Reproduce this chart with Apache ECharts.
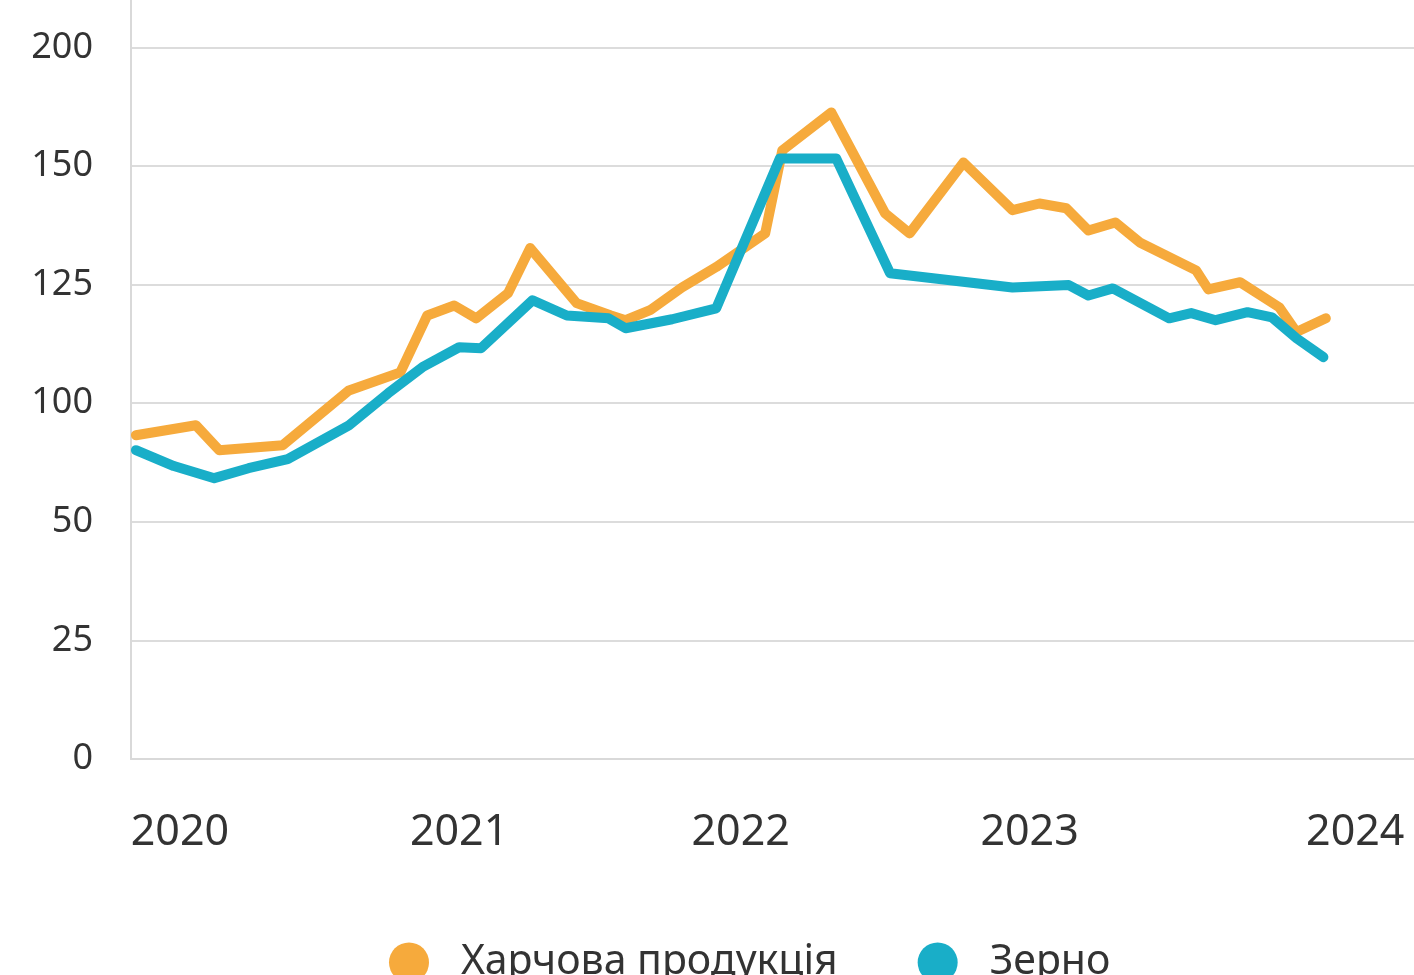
<!DOCTYPE html>
<html>
<head>
<meta charset="utf-8">
<title>Харчова продукція / Зерно</title>
<script src="https://cdn.jsdelivr.net/npm/echarts@6/dist/echarts.min.js"></script>
<style>
  html, body { margin: 0; padding: 0; background: #fff; }
  #chart { width: 1414px; height: 975px; }
</style>
</head>
<body>
<div id="chart"></div>
<script>
// x = місяці від січня 2020 (0 = січ 2020)
var yearLabels = ['2020', '2021', '2022', '2023', '2024'];
var yearLabelAt = [0, 11.4, 22.9, 34.7, 48];

// підписи осі Y (рівномірні поділки, але нерівномірні значення)
var yTickLabels = [0, 25, 50, 100, 125, 150, 200];

var foodX = [-1.8, 0.65, 1.6, 4.2, 6.9, 9.0, 10.1, 11.2, 12.1, 13.4, 14.3, 16.2, 17.6, 18.2, 19.2, 20.5, 21.9, 23.9, 24.6, 26.6, 28.8, 29.8, 32.0, 34.0, 35.1, 36.2, 37.1, 38.2, 39.2, 41.5, 42.0, 43.3, 44.9, 45.6, 46.8];
var foodY = [86.5, 90.7, 80.2, 82.3, 102.7, 106.5, 118.5, 120.6, 117.9, 123.2, 132.7, 121.1, 118.5, 117.5, 119.6, 124.4, 128.7, 135.8, 156.6, 172.6, 140.0, 135.8, 151.5, 140.7, 142.1, 141.1, 136.4, 138.1, 133.9, 128.0, 124.0, 125.5, 120.2, 115.0, 117.9];

var grainX = [-1.8, -0.25, 1.4, 2.8, 4.4, 6.9, 8.5, 9.9, 11.4, 12.3, 14.4, 15.8, 17.5, 18.2, 20.1, 21.9, 24.5, 26.8, 29.0, 34.0, 36.3, 37.1, 38.1, 40.4, 41.3, 42.3, 43.6, 44.6, 45.6, 46.7];
var grainY = [80.2, 73.5, 68.4, 72.6, 76.4, 90.7, 102.1, 107.6, 111.8, 111.6, 121.7, 118.5, 117.9, 115.8, 117.7, 120.0, 153.2, 153.2, 127.4, 124.4, 124.9, 122.7, 124.2, 117.9, 119.0, 117.5, 119.2, 118.1, 113.7, 109.7];

// значення -> позиція на осі (номер поділки)
function toAxis(v) {
  for (var i = 1; i < yTickLabels.length; i++) {
    if (v <= yTickLabels[i]) {
      var a = yTickLabels[i - 1], b = yTickLabels[i];
      return i - 1 + (v - a) / (b - a);
    }
  }
  return yTickLabels.length - 1;
}

function pairs(xs, ys) {
  return xs.map(function (x, i) { return [x, toAxis(ys[i])]; });
}

var font = '"Noto Sans", "DejaVu Sans", sans-serif';
var myChart = echarts.init(document.getElementById('chart'));
myChart.setOption({
  animation: false,
  textStyle: { fontFamily: font },
  grid: { left: 131, right: 0, top: 0, bottom: 216, containLabel: false },
  legend: {
    data: [
      { name: 'Харчова продукція', icon: 'circle' },
      { name: 'Зерно', icon: 'circle' }
    ],
    left: 384,
    top: 937,
    itemWidth: 94,
    itemHeight: 40,
    itemGap: 80,
    textStyle: { fontSize: 41, color: '#333', fontFamily: font }
  },
  xAxis: {
    type: 'value',
    min: -2,
    max: 50.4,
    splitLine: { show: false },
    axisTick: { show: false },
    axisLine: { show: true, onZero: false, lineStyle: { color: '#d9d9d9', width: 2 } },
    axisLabel: {
      customValues: yearLabelAt,
      margin: 52,
      fontSize: 43,
      color: '#333',
      fontFamily: font,
      formatter: function (v) {
        var i = yearLabelAt.indexOf(v);
        return i >= 0 ? yearLabels[i] : '';
      }
    }
  },
  yAxis: {
    type: 'value',
    min: 0,
    max: 6.4,
    interval: 1,
    axisTick: { show: false },
    axisLine: { show: true, onZero: false, lineStyle: { color: '#d9d9d9', width: 2 } },
    splitLine: { show: true, showMaxLine: false, lineStyle: { color: '#dcdcdc', width: 2 } },
    axisLabel: {
      margin: 38,
      fontSize: 36,
      color: '#333',
      fontFamily: font,
      padding: [0, 0, 10, 0],
      showMaxLabel: false,
      formatter: function (v) {
        return Number.isInteger(v) ? String(yTickLabels[v]) : '';
      }
    }
  },
  series: [
    {
      name: 'Харчова продукція',
      type: 'line',
      data: pairs(foodX, foodY),
      showSymbol: false,
      color: '#F6AA3C',
      lineStyle: { width: 10, color: '#F6AA3C', join: 'round', cap: 'round' }
    },
    {
      name: 'Зерно',
      type: 'line',
      data: pairs(grainX, grainY),
      showSymbol: false,
      color: '#19AEC8',
      lineStyle: { width: 10, color: '#19AEC8', join: 'round', cap: 'round' }
    }
  ]
});
</script>
</body>
</html>
